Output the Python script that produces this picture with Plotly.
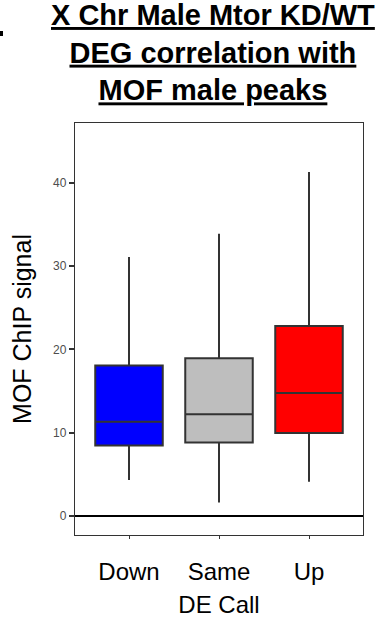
import plotly.graph_objects as go

categories = ["Down", "Same", "Up"]
lower_whisker = [4.3, 1.6, 4.1]
q1_values = [8.45, 8.8, 9.95]
medians = [11.3, 12.2, 14.75]
q3_values = [18.05, 18.95, 22.8]
upper_whisker = [31.1, 33.9, 41.3]
fill_colors = ["#0000FF", "#BEBEBE", "#FF0000"]
y_ticks = [0, 10, 20, 30, 40]

fig = go.Figure()
for i, cat in enumerate(categories):
    fig.add_trace(go.Box(
        x=[cat], q1=[q1_values[i]], median=[medians[i]], q3=[q3_values[i]],
        lowerfence=[lower_whisker[i]], upperfence=[upper_whisker[i]],
        fillcolor=fill_colors[i], line=dict(color="#333333", width=2),
        whiskerwidth=0, width=0.75, boxpoints=False, showlegend=False,
        hoverinfo="skip",
    ))

fig.update_layout(
    width=375, height=634,
    margin=dict(l=75, r=12, t=123, b=99),
    paper_bgcolor="white", plot_bgcolor="white",
    boxmode="overlay",
    font=dict(family="Liberation Sans, Arial, sans-serif", color="black"),
    xaxis=dict(
        type="category", categoryorder="array", categoryarray=categories,
        range=[-0.6, 2.6], showgrid=False, zeroline=False,
        showline=True, mirror=True, linecolor="#333333", linewidth=1.3,
        ticks="outside", ticklen=3, tickcolor="#333333", tickwidth=1,
        ticklabelstandoff=12,
        tickfont=dict(size=24, color="black"),
        title=dict(text="DE Call", font=dict(size=24, color="black"), standoff=12),
    ),
    yaxis=dict(
        range=[-2.3, 47.2], tickvals=y_ticks, showgrid=False,
        zeroline=True, zerolinecolor="black", zerolinewidth=1.5,
        showline=True, mirror=True, linecolor="#333333", linewidth=1.3,
        ticks="outside", ticklen=5, tickcolor="#333333", tickwidth=1.5,
        tickfont=dict(size=12, color="#4D4D4D"),
        title=dict(text="MOF ChIP signal", font=dict(size=25, color="black"), standoff=14),
    ),
    annotations=[dict(
        text="<b><u>X Chr Male Mtor KD/WT</u></b><br><b><u>DEG correlation with</u></b><br><b><u>MOF male peaks</u></b>",
        xref="paper", yref="paper", x=0.479, y=1.1723, xanchor="center", yanchor="middle",
        showarrow=False, font=dict(size=29, color="black"), align="center",
    )],
    shapes=[dict(type="rect", xref="paper", yref="paper",
                 x0=-0.2604, x1=-0.25, y0=1.2112, y1=1.2233,
                 fillcolor="black", line=dict(width=0))],
)

fig.write_html("out.html", config={"displayModeBar": False},
               post_script="document.body.style.margin='0';")
